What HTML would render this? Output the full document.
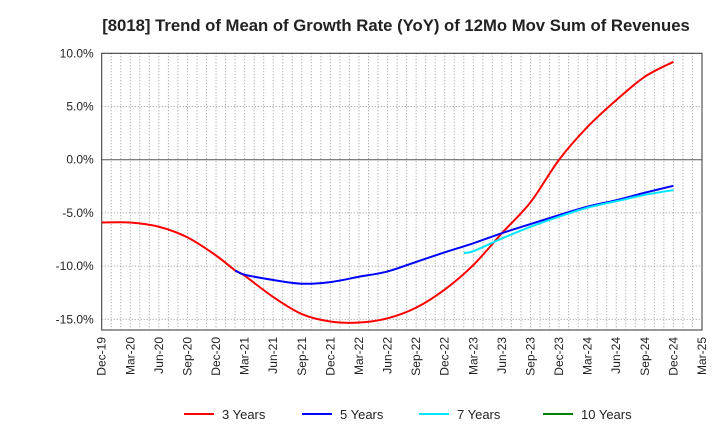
<!DOCTYPE html>
<html><head><meta charset="utf-8"><style>
body{margin:0;background:#fff;font-family:"Liberation Sans",Arial,sans-serif}
</style></head><body>
<svg id="chart" width="720" height="440" xmlns="http://www.w3.org/2000/svg" font-family="Liberation Sans, Arial, sans-serif">
<text x="396" y="31" text-anchor="middle" font-size="16.7" font-weight="bold" fill="#222">[8018]  Trend of Mean of Growth Rate (YoY) of 12Mo Mov Sum of Revenues</text>
<g id="grid"></g>
<g id="axes"></g>
<g id="series"></g>
<g id="legend"></g>
</svg>
<script>
const xTickLabels=["Dec-19","Mar-20","Jun-20","Sep-20","Dec-20","Mar-21","Jun-21","Sep-21","Dec-21","Mar-22","Jun-22","Sep-22","Dec-22","Mar-23","Jun-23","Sep-23","Dec-23","Mar-24","Jun-24","Sep-24","Dec-24","Mar-25"];
const yTicks=[10,5,0,-5,-10,-15];
// months since Dec-19
const months3=[0,3,6,9,12,14,15,18,21,24,27,30,33,36,39,42,45,48,51,54,57,60];
const vals3=[-5.9,-5.9,-6.3,-7.3,-9.0,-10.4,-10.9,-12.9,-14.5,-15.2,-15.3,-14.9,-13.9,-12.2,-9.9,-6.9,-4.0,0.0,3.1,5.6,7.8,9.2];
const months5=[14,15,18,21,24,27,30,33,36,39,42,45,48,51,54,57,60];
const vals5=[-10.4,-10.8,-11.3,-11.65,-11.5,-11.0,-10.5,-9.6,-8.7,-7.85,-6.9,-6.05,-5.2,-4.4,-3.8,-3.1,-2.45];
const months7=[38,39,42,45,48,51,54,57,60];
const vals7=[-8.75,-8.6,-7.4,-6.3,-5.35,-4.5,-3.9,-3.3,-2.85];
const months10=[];
const vals10=[];
const legendLabels=["3 Years","5 Years","7 Years","10 Years"];
const colors=["#ff0000","#0000ff","#00e5ff","#008000"];

const NS="http://www.w3.org/2000/svg";
const L=101.7,R=702,T=53.3,B=330;
const yMax=10,yMin=-16;
const x=m=>L+(R-L)*m/63;
const y=v=>T+(yMax-v)*(B-T)/(yMax-yMin);
function mk(tag,attrs,parent){const e=document.createElementNS(NS,tag);for(const k in attrs)e.setAttribute(k,attrs[k]);parent.appendChild(e);return e;}
const grid=document.getElementById('grid'),axes=document.getElementById('axes'),series=document.getElementById('series'),legend=document.getElementById('legend');
for(let m=1;m<63;m++){const l=mk('line',{x1:x(m),x2:x(m),y1:T,y2:B,stroke:'#999','stroke-width':1,'stroke-dasharray':'1,2'},grid);
}
yTicks.forEach(v=>{const l=mk('line',{x1:L,x2:R,y1:y(v),y2:y(v),stroke:v===0?'#555':'#999','stroke-width':1,'stroke-dasharray':v===0?'none':'1,2'},grid);

const t=mk('text',{x:L-8,y:y(v)+4,'text-anchor':'end','font-size':12,fill:'#222'},axes);t.textContent=v.toFixed(1)+'%';
});
const fr=mk('rect',{x:L,y:T,width:R-L,height:B-T,fill:'none',stroke:'#333','stroke-width':1},axes);

xTickLabels.forEach((s,i)=>{const px=x(i*3);const t=mk('text',{x:0,y:0,'text-anchor':'end','font-size':12,fill:'#222',transform:`translate(${px+4},${B+7}) rotate(-90)`},axes);t.textContent=s;
});
function smooth(ms,vs){const p=ms.map((m,i)=>[x(m),y(vs[i])]);if(!p.length)return '';let d=`M${p[0][0]},${p[0][1]}`;
for(let i=0;i<p.length-1;i++){const p0=p[i-1]||p[i],p1=p[i],p2=p[i+1],p3=p[i+2]||p2;
d+=` C${p1[0]+(p2[0]-p0[0])/6},${p1[1]+(p2[1]-p0[1])/6} ${p2[0]-(p3[0]-p1[0])/6},${p2[1]-(p3[1]-p1[1])/6} ${p2[0]},${p2[1]}`;}return d;}
[[months3,vals3],[months5,vals5],[months7,vals7],[months10,vals10]].forEach((s,i)=>{if(!s[0].length)return;
const p=mk('path',{d:smooth(s[0],s[1]),fill:'none',stroke:colors[i],'stroke-width':2},series);
});
const lx=[184,302,419,543];
legendLabels.forEach((s,i)=>{const g=mk('g',{},legend);
mk('line',{x1:lx[i],x2:lx[i]+30,y1:414,y2:414,stroke:colors[i],'stroke-width':2},g);
const t=mk('text',{x:lx[i]+38,y:419,'font-size':13,fill:'#222'},g);t.textContent=s;});
</script>
</body></html>
